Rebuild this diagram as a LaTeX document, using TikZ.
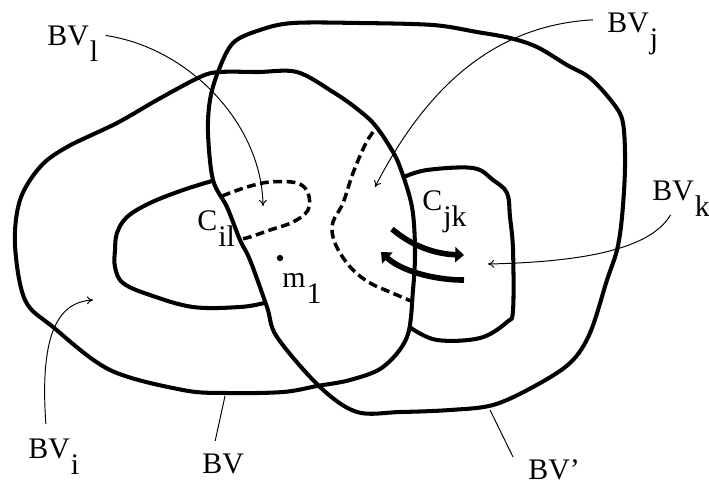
\documentclass[tikz,border=0pt]{standalone}
\usepackage{fontspec}
\setmainfont{Liberation Serif}
\usepackage{tikz}
\usetikzlibrary{arrows.meta}
\newcommand{\lowsub}[1]{\kern0.6pt\raisebox{-9.3pt}[0pt][0pt]{#1}}
\tikzset{
  outline/.style={line width=2.3pt,line join=round,line cap=round},
  dashline/.style={line width=2pt,dash pattern=on 5pt off 2.6pt},
  leader/.style={line width=0.55pt},
  leadarr/.style={leader,-{To[length=3.5pt,width=4.5pt]}},
  flux/.style={line width=3.2pt,-{Triangle[length=5pt,width=8.5pt]}},
  lbl/.style={inner sep=0pt,anchor=base west,font=\fontsize{17}{20}\selectfont},
}

\begin{document}
\begin{tikzpicture}[x=0.02cm,y=-0.02cm]
\useasboundingbox (0,0) rectangle (709,485);

% outer regions BV and BV'
\draw[outline] plot[smooth cycle,tension=0.55] coordinates {
  (220,72) (258,72) (297,72) (333,92) (356,108) (374,124) (390,147) (400,167)
  (412,207) (415,250) (413,290) (407,337) (383,367) (350,380) (317,386)
  (283,392) (227,393) (183,390) (110,370) (53,327) (25,300) (15,245)
  (20,200) (40,167) (67,147) (117,123) (157,100) (200,77)};
\draw[outline] plot[smooth cycle,tension=0.55] coordinates {
  (233,43) (260,30) (293,23) (360,23) (433,25) (477,32) (510,38) (537,47)
  (567,65) (590,78) (613,103) (623,123) (625,167) (622,217) (617,250)
  (607,280) (590,333) (570,363) (533,387) (493,405) (450,410) (400,412)
  (357,412) (320,387) (277,337) (267,307) (250,260) (240,240) (227,207)
  (213,180) (208,133) (210,100) (218,72)};

% inner boundaries
\draw[outline] plot[smooth,tension=0.6] coordinates {
  (212,181) (183,190) (150,203) (127,217) (117,233) (115,250) (115,267)
  (123,283) (150,295) (193,307) (240,307) (264,303)};
\draw[outline] plot[smooth,tension=0.6] coordinates {
  (404,177) (427,170) (473,168) (493,180) (507,193) (510,217) (513,250)
  (513,310) (507,322) (480,338) (437,340) (411,328)};

% cuts
\draw[dashline] plot[smooth,tension=0.6] coordinates {
  (222,196) (247,187) (270,182) (297,183) (308,193) (308,210) (293,222)
  (270,230) (250,237) (241,239)};
\draw[dashline] plot[smooth,tension=0.6] coordinates {
  (373,132) (365,145) (353,173) (343,203) (333,222) (333,237) (340,253)
  (353,270) (370,283) (390,292) (411,301)};

% exchange across C_jk
\draw[flux] (392,229) .. controls (412,246) and (435,254) .. (464,255);
\draw[flux] (464,280) .. controls (432,280) and (400,270) .. (381,252);

% labels
\node[lbl] (lblBVl) at (47,45) {BV\lowsub{l}};
\node[lbl] (lblBVj) at (607,32) {BV\lowsub{j}};
\node[lbl] (lblBVk) at (652,200) {BV\lowsub{k}};
\node[lbl] (lblBVi) at (28,458) {BV\lowsub{i}};
\node[lbl] (lblBV) at (202,473) {BV};
\node[lbl] (lblBVp) at (528,479) {BV'};
\node[lbl] (lblCil) at (197,230) {C\lowsub{il}};
\node[lbl] (lblCjk) at (422,210) {C\lowsub{jk}};
\node[lbl] (lblm) at (282,287) {m\lowsub{1}};
\node[circle,fill,inner sep=0pt,minimum size=3.6pt] (mdot) at (280,258) {};

% leaders
\coordinate (tipBVl) at (263,206);
\coordinate (tipBVj) at (375,187);
\coordinate (tipBVk) at (488,264);
\coordinate (tipBVi) at (93,300);
\coordinate (tipBV) at (225,396);
\coordinate (tipBVp) at (490,410);
\draw[leadarr] ([xshift=4pt]lblBVl.east) .. controls (190,48) and (262,125) .. (tipBVl);
\draw[leadarr] ([xshift=-8pt,yshift=1.5pt]lblBVj.west) .. controls (500,25) and (430,80) .. (tipBVj);
\draw[leadarr] ([xshift=-6pt,yshift=-8pt]lblBVk.south) .. controls (650,250) and (580,262) .. (tipBVk);
\draw[leadarr] ([xshift=-4.5pt,yshift=8pt]lblBVi.north) .. controls (40,340) and (55,302) .. (tipBVi);
\draw[leader] ([xshift=-4.5pt,yshift=7pt]lblBV.north) -- (tipBV);
\draw[leader] ([xshift=-8.5pt,yshift=1pt]lblBVp.north west) -- (tipBVp);
\end{tikzpicture}
\end{document}
